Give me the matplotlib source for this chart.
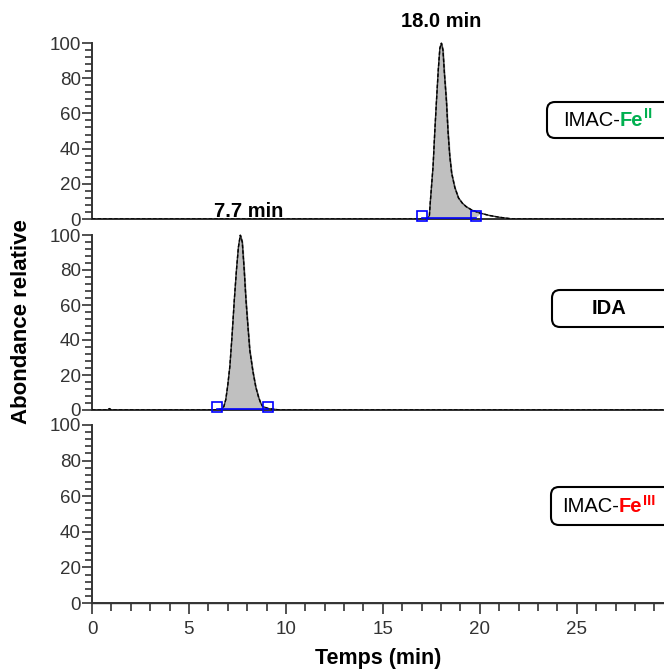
import matplotlib.pyplot as plt
from matplotlib.patches import FancyBboxPatch
from matplotlib.text import Annotation
from matplotlib.ticker import MultipleLocator

plt.rcParams['font.family'] = ['Liberation Sans', 'DejaVu Sans']

# Chromatogram data (time in min, relative abundance)
fe2_time = [0, 17.0, 17.3, 17.4, 17.45, 17.52, 17.59, 17.68, 17.77, 17.86, 17.94, 18.02,
            18.1, 18.18, 18.28, 18.36, 18.45, 18.55, 18.71, 18.9, 19.1, 19.3, 19.6, 20.0,
            20.5, 21.0, 21.7, 29.5]
fe2_signal = [0, 0, 0.3, 2, 10, 20, 30, 50, 68, 85, 97, 100,
              96, 82, 67, 50, 36, 26, 18, 12, 9, 7, 5, 3.4,
              2, 1, 0, 0]
fe2_marks = [17.0, 19.8]

ida_time = [0, 0.8, 0.9, 1.0, 6.4, 6.7, 6.8, 6.9, 7.0, 7.11, 7.22, 7.34, 7.45, 7.55, 7.65,
            7.75, 7.85, 7.94, 8.04, 8.14, 8.3, 8.45, 8.6, 8.7, 8.8, 9.1, 9.7, 29.5]
ida_signal = [0, 0, 0.8, 0, 0, 0.5, 2, 6, 14, 25, 42, 63, 80, 93, 100,
              96, 80, 63, 48, 34, 22, 13, 7, 4, 2, 0.8, 0, 0]
ida_marks = [6.43, 9.07]

fe3_time = [0, 29.5]
fe3_signal = [0, 0]

peak_labels = ['18.0 min', '7.7 min']
peak_label_pos = [18.0, 8.1]

fig = plt.figure(figsize=(6.64, 6.71), dpi=100)

# axes positions (left, bottom, width, height) in figure fraction
left = 92 / 664
width = 572 / 664
ax1 = fig.add_axes([left, 1 - 219 / 671, width, 176 / 671])
ax2 = fig.add_axes([left, 1 - 410 / 671, width, 175 / 671])
ax3 = fig.add_axes([left, 1 - 603 / 671, width, 178 / 671])
axes = [ax1, ax2, ax3]

traces = [(fe2_time, fe2_signal, fe2_marks),
          (ida_time, ida_signal, ida_marks),
          (fe3_time, fe3_signal, None)]

for ax, (t, s, marks) in zip(axes, traces):
    ax.set_xlim(0, 29.5)
    ax.set_ylim(0, 100)
    for side in ['top', 'right']:
        ax.spines[side].set_visible(False)
    for side in ['left', 'bottom']:
        ax.spines[side].set_color('#333333')
        ax.spines[side].set_linewidth(1.4)
    ax.yaxis.set_major_locator(MultipleLocator(20))
    ax.yaxis.set_minor_locator(MultipleLocator(4))
    ax.tick_params(axis='y', which='major', length=7, width=1.2, colors='#333333',
                   labelsize=13.5, pad=1)
    ax.tick_params(axis='y', which='minor', length=5, width=1.2, colors='#333333')
    ax.xaxis.set_major_locator(MultipleLocator(5))
    ax.xaxis.set_minor_locator(MultipleLocator(1))
    ax.tick_params(axis='x', which='major', length=8, width=1.2, colors='#333333',
                   labelsize=13.5, pad=5)
    ax.tick_params(axis='x', which='minor', length=6, width=1.2, colors='#333333')

    ax.plot(t, s, color='#333333', lw=1.0, zorder=3, clip_on=False)
    if marks is not None:
        ax.fill_between(t, s, 0, where=[marks[0] <= v <= marks[1] for v in t],
                        color='#c0c0c0', zorder=2, interpolate=True)
        ax.plot(t, s, color='black', lw=1.0, ls=(0, (2.5, 1.5)), zorder=4)
        ax.plot(marks, [0.6, 0.6], color='#0000ff', lw=1.2, zorder=5)
        ax.plot(marks, [1.8, 1.8], ls='none', marker='s', markersize=7,
                mfc='none', mec='#0000ff', mew=1.2, zorder=5, clip_on=False)

for ax in [ax1, ax2]:
    ax.tick_params(axis='x', which='both', bottom=False, labelbottom=False)

# peak retention time labels
ax1.text(peak_label_pos[0], 107, peak_labels[0], ha='center', va='bottom',
         fontsize=14.5, fontweight='bold', clip_on=False)
ax2.text(peak_label_pos[1], 108, peak_labels[1], ha='center', va='bottom',
         fontsize=14.5, fontweight='bold', clip_on=False)

ax3.set_xlabel('Temps (min)', fontsize=15.5, fontweight='bold', labelpad=7)
fig.text(22 / 664, 1 - 322 / 671, 'Abondance relative', rotation=90, ha='center',
         va='center', fontsize=16, fontweight='bold')

# label boxes on the right
boxes = [(547, 102, 138), (552, 290, 327), (551, 487, 525)]
for x0, ytop, ybot in boxes:
    box = FancyBboxPatch((x0 / 664, 1 - ybot / 671), 0.3, (ybot - ytop) / 671,
                         boxstyle='round,pad=0,rounding_size=0.012',
                         transform=fig.transFigure, fc='white', ec='black', lw=1.5,
                         clip_on=False, zorder=1)
    fig.add_artist(box)

box_fs = 14.5


def chained(text, prev, xy, **kw):
    # text placed right after a previous text artist
    a = Annotation(text, xy=xy, xycoords=prev, ha='left', va='bottom', **kw)
    a.set_zorder(3)
    fig.add_artist(a)
    return a


t1 = fig.text(563 / 664, 1 - 120 / 671, 'IMAC-', fontsize=box_fs, ha='left',
              va='center', zorder=3)
t2 = chained('Fe', t1, (1, 0), fontsize=box_fs, fontweight='bold', color='#00b050')
chained('II', t2, (1.02, 0.45), fontsize=10.5, fontweight='bold', color='#00b050')

fig.text(609 / 664, 1 - 309 / 671, 'IDA', fontsize=box_fs, fontweight='bold',
         ha='center', va='center', zorder=3)

t3 = fig.text(562 / 664, 1 - 507 / 671, 'IMAC-', fontsize=box_fs, ha='left',
              va='center', zorder=3)
t4 = chained('Fe', t3, (1, 0), fontsize=box_fs, fontweight='bold', color='#ff0000')
chained('III', t4, (1.02, 0.45), fontsize=10.5, fontweight='bold', color='#ff0000')

fig.savefig('out.png', dpi=100)
